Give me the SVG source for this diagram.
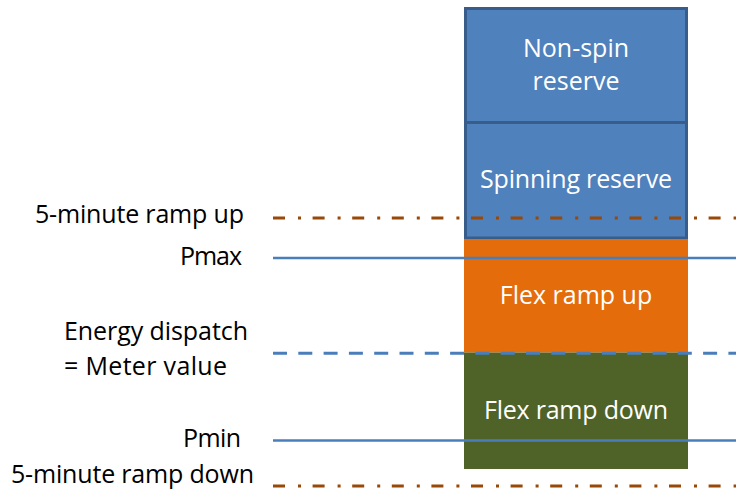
<svg xmlns="http://www.w3.org/2000/svg" width="736" height="500" viewBox="0 0 736 500">
<style>
.lbl{font-family:"Open Sans","Liberation Sans",sans-serif;font-size:25px;fill:#000}
.in{font-family:"Open Sans","Liberation Sans",sans-serif;font-size:25px;fill:#fff;text-anchor:middle}
.res{fill:#4f81bd;stroke:#385d8a;stroke-width:3}
.solid{stroke:#4a7ebb;stroke-width:2.5;fill:none}
.dash{stroke:#4a7ebb;stroke-width:3;fill:none;stroke-dasharray:14 11.3}
.dashdot{stroke:#984807;stroke-width:3;fill:none;stroke-dasharray:12 13 3 11.6}
</style>
<rect width="736" height="500" fill="#fff"/>
<g id="nonspin">
<rect class="res" x="465.5" y="8.5" width="221" height="114"/>
<text class="in" x="576" y="57">Non-spin</text>
<text class="in" x="576" y="90">reserve</text>
</g>
<g id="spinning">
<rect class="res" x="465.5" y="122.5" width="221" height="115.5"/>
<text class="in" x="576" y="188" textLength="192">Spinning reserve</text>
</g>
<g id="flexup">
<rect x="464" y="239" width="224" height="113.5" fill="#e46c0a"/>
<text class="in" x="576" y="304">Flex ramp up</text>
</g>
<g id="flexdown">
<rect x="464" y="352.5" width="224" height="116.5" fill="#4f6228"/>
<text class="in" x="576" y="419" textLength="184">Flex ramp down</text>
</g>
<g id="connectors">
<line class="dashdot" x1="273" y1="218" x2="736" y2="218"/>
<line class="solid" x1="273" y1="258" x2="736" y2="258"/>
<line class="dash" x1="273" y1="353.3" x2="736" y2="353.3"/>
<line class="solid" x1="273" y1="440.5" x2="736" y2="440.5"/>
<line class="dashdot" x1="273" y1="486" x2="736" y2="486"/>
</g>
<g id="labels">
<text class="lbl" x="244" y="223" text-anchor="end" textLength="209">5-minute ramp up</text>
<text class="lbl" x="242" y="265" text-anchor="end" textLength="62">Pmax</text>
<text class="lbl" x="64" y="340" textLength="184">Energy dispatch</text>
<text class="lbl" x="64" y="375" textLength="163">= Meter value</text>
<text class="lbl" x="241" y="447" text-anchor="end" textLength="58">Pmin</text>
<text class="lbl" x="11" y="483" textLength="243">5-minute ramp down</text>
</g>
</svg>
